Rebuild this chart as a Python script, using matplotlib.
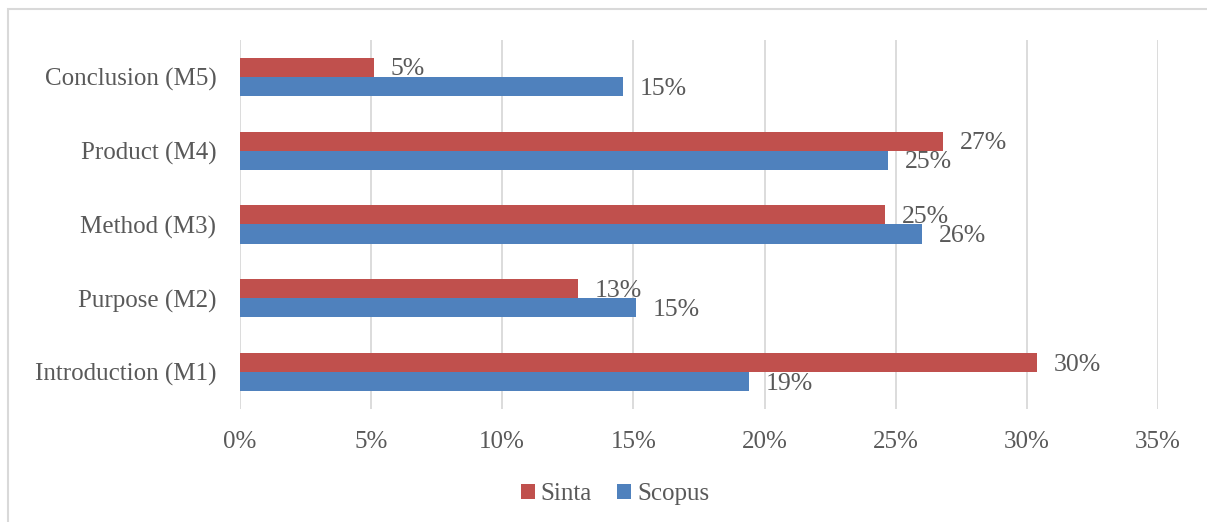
import matplotlib.pyplot as plt
from matplotlib.patches import Rectangle
from matplotlib.ticker import PercentFormatter
import numpy as np

# Data
categories = ["Introduction (M1)", "Purpose (M2)", "Method (M3)",
              "Product (M4)", "Conclusion (M5)"]
sinta = [30.4, 12.9, 24.6, 26.8, 5.1]
scopus = [19.4, 15.1, 26.0, 24.7, 14.6]
sinta_labels = ["30%", "13%", "25%", "27%", "5%"]
scopus_labels = ["19%", "15%", "26%", "25%", "15%"]
xticks = [0, 5, 10, 15, 20, 25, 30, 35]

red = "#C0504D"
blue = "#4F81BD"
txt = "#595959"
font = "Liberation Serif"
fs = 18

fig = plt.figure(figsize=(12.07, 5.22), dpi=100)
ax = fig.add_axes([240/1207, 1 - 409/522, 918/1207, 369/522])

y = np.arange(len(categories))
h = 0.258
b1 = ax.barh(y + h/2, sinta, height=h, color=red, label="Sinta")
b2 = ax.barh(y - h/2, scopus, height=h, color=blue, label="Scopus")

for bars, labs in [(b1, sinta_labels), (b2, scopus_labels)]:
    for bar, lab in zip(bars, labs):
        ax.annotate(lab, (bar.get_width(), bar.get_y() + bar.get_height()/2),
                    xytext=(12, -1.5), textcoords="offset points",
                    ha="left", va="center", fontsize=18.5, color=txt,
                    family=font)

ax.set_xlim(0, 35)
ax.set_ylim(-0.5, 4.5)
ax.set_xticks(xticks)
ax.xaxis.set_major_formatter(PercentFormatter(decimals=0))
ax.set_yticks(y)
ax.set_yticklabels(categories)
ax.grid(axis="x", color="#D9D9D9", linewidth=1.3)
ax.set_axisbelow(True)
for s in ax.spines.values():
    s.set_visible(False)
ax.tick_params(axis="y", length=0, pad=17, labelsize=fs, labelcolor=txt)
ax.tick_params(axis="x", length=0, pad=16, labelsize=fs, labelcolor=txt)
for t in ax.get_xticklabels() + ax.get_yticklabels():
    t.set_family(font)

fig.legend(handles=[b1, b2], loc="center",
           bbox_to_anchor=(615/1207, 1 - 494/522), ncol=2,
           frameon=False, handlelength=0.55, handleheight=0.55,
           handletextpad=0.25, columnspacing=1.0,
           prop={"family": font, "size": fs}, labelcolor=txt)

# chart area border (Excel style)
fig.patches.append(Rectangle((8/1207, -0.1), 1.2, 1 - 9/522 + 0.1,
                             transform=fig.transFigure, fill=False,
                             edgecolor="#D9D9D9", linewidth=1.5))

fig.savefig("out.png", dpi=100)
